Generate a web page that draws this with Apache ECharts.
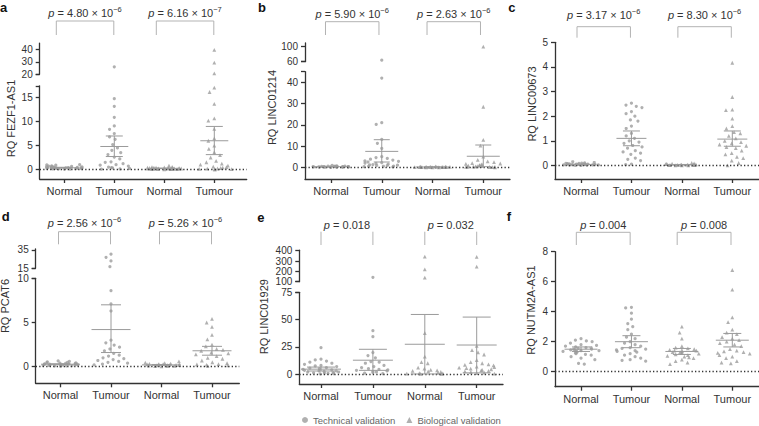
<!DOCTYPE html>
<html><head><meta charset="utf-8">
<script src="https://cdn.jsdelivr.net/npm/echarts@6/dist/echarts.min.js"></script>
<style>html,body{margin:0;padding:0;background:#fff}#c{width:759px;height:426px}</style>
</head><body><div id="c"></div>
<script>
// ---------------- DATA ----------------
const categories = ['Normal', 'Tumour', 'Normal', 'Tumour'];
const legendNames = ['Technical validation', 'Biological validation'];

// a: FEZF1-AS1
const aYName = 'RQ FEZF1-AS1';
const aTechNormal = [0.05,0.08,0.1,0.12,0.15,0.18,0.2,0.22,0.25,0.27,0.3,0.3,0.32,0.35,0.38,0.4,0.42,0.45,0.48,0.5,0.52,0.55,0.6,0.65,0.7,0.75,0.9,0.95,1.0];
const aTechTumour = [26.0,14.8,13.2,10.9,9.1,8.4,7.5,6.8,6.3,5.2,4.5,4.0,3.5,3.1,2.6,2.2,1.6,1.5,1.2,1.0,0.9,0.7,0.5,0.4,0.3,0.2,0.1,0.05];
const aBioNormal = [0.02,0.05,0.06,0.08,0.1,0.1,0.12,0.14,0.15,0.16,0.18,0.2,0.2,0.22,0.24,0.25,0.27,0.3,0.3,0.32,0.35,0.38,0.4,0.45,0.5,0.55,0.8];
const aBioTumour = [39.5,29.3,20.8,17.1,16.2,13.7,10.7,10.2,8.5,6.5,6.0,5.0,4.3,3.6,3.0,2.5,1.8,1.5,1.2,1.0,0.8,0.6,0.5,0.4,0.3,0.2,0.15,0.1,0.05,0.03,0.02];
const aMean = [0.35, 4.8, 0.22, 6.0];
const aCiLow = [0.27, 2.7, 0.17, 3.1];
const aCiHigh = [0.45, 7.0, 0.28, 9.0];
const aPValues = ['4.80 × 10^−6', '6.16 × 10^−7'];
const aLowerTicks = [0, 5, 10, 15];
const aUpperTicks = [20, 30, 40];

// b: LINC01214
const bYName = 'RQ LINC01214';
const bTechNormal = [0.02,0.05,0.08,0.1,0.1,0.12,0.15,0.18,0.2,0.2,0.22,0.25,0.28,0.3,0.3,0.32,0.35,0.4,0.42,0.45,0.5,0.55,0.6,0.7,0.9];
const bTechTumour = [64,42,21,20.2,13.1,11.3,8.9,5.0,4.6,4.2,3.8,3.4,3.0,2.8,2.5,2.2,2.0,1.8,1.5,1.3,1.1,1.0,0.9,0.8,0.6,0.5,0.4,0.3,0.2];
const bBioNormal = [0.01,0.02,0.03,0.05,0.05,0.06,0.08,0.1,0.1,0.12,0.14,0.15,0.18,0.2,0.22,0.25,0.3,0.35,0.4];
const bBioTumour = [100,28.5,12.9,10.2,5.0,3.5,2.8,2.4,2.0,1.8,1.6,1.4,1.2,1.0,0.9,0.8,0.6,0.5,0.4,0.3,0.25,0.2,0.15,0.1,0.05,0.02];
const bMean = [0.3, 7.5, 0.15, 5.2];
const bCiLow = [0.22, 2.5, 0.1, 0.3];
const bCiHigh = [0.38, 13.0, 0.2, 10.5];
const bPValues = ['5.90 × 10^−6', '2.63 × 10^−6'];
const bLowerTicks = [0, 10, 20, 30, 40];
const bUpperTicks = [60, 100];

// c: LINC00673
const cYName = 'RQ LINC00673';
const cTechNormal = [0.0,0.0,0.01,0.01,0.02,0.02,0.02,0.03,0.03,0.03,0.04,0.04,0.05,0.05,0.05,0.06,0.06,0.07,0.08,0.08,0.09,0.1,0.12,0.15];
const cTechTumour = [2.53,2.45,2.4,2.35,2.19,2.1,2.0,1.85,1.8,1.6,1.5,1.3,1.2,1.1,1.0,0.95,0.9,0.81,0.75,0.7,0.6,0.55,0.5,0.45,0.3,0.25,0.2,0.05,0.03];
const cBioNormal = [0,0,0.005,0.01,0.01,0.015,0.02,0.02,0.025,0.03,0.03,0.035,0.04,0.04,0.05,0.05,0.06,0.07,0.08,0.1];
const cBioTumour = [4.17,2.78,2.27,2.25,1.9,1.6,1.5,1.35,1.3,1.2,1.1,1.0,0.95,0.9,0.85,0.8,0.75,0.7,0.6,0.5,0.45,0.35,0.3,0.2,0.1,0.0];
const cMean = [0.04, 1.1, 0.03, 1.07];
const cCiLow = [0.03, 0.8, 0.02, 0.78];
const cCiHigh = [0.05, 1.4, 0.04, 1.4];
const cPValues = ['3.17 × 10^−6', '8.30 × 10^−6'];
const cTicks = [0, 1, 2, 3, 4, 5];

// d: PCAT6
const dYName = 'RQ PCAT6';
const dTechNormal = [0.05,0.08,0.1,0.12,0.15,0.15,0.18,0.2,0.2,0.22,0.25,0.25,0.28,0.3,0.3,0.32,0.35,0.38,0.4,0.42,0.45,0.5,0.55,0.6,0.65];
const dTechTumour = [30.3,27,23,16.8,8.6,7.1,6.3,3.0,2.7,2.45,2.2,2.0,1.8,1.5,1.3,1.2,1.0,0.9,0.8,0.7,0.6,0.5,0.4,0.3,0.2];
const dBioNormal = [0.05,0.08,0.1,0.1,0.12,0.14,0.15,0.16,0.18,0.2,0.2,0.22,0.24,0.25,0.28,0.3,0.32,0.35,0.4,0.45,0.6];
const dBioTumour = [5.4,5.0,4.5,3.6,3.1,2.5,2.3,2.0,1.9,1.8,1.6,1.5,1.4,1.2,1.0,0.9,0.7,0.5,0.4,0.3,0.25,0.2,0.15,0.1];
const dMean = [0.28, 4.2, 0.2, 1.8];
const dCiLow = [0.22, 1.6, 0.16, 1.3];
const dCiHigh = [0.33, 7.0, 0.25, 2.3];
const dPValues = ['2.56 × 10^−6', '5.26 × 10^−6'];
const dLowerTicks = [0, 5, 10];
const dUpperTicks = [15, 35];

// e: LINC01929
const eYName = 'RQ LINC01929';
const eTechNormal = [24.3,13.7,13,12,11,10,9,8,7.5,7,6,5.5,5,4.5,4,3.5,3,3,2.5,2,2,1.5,1.2,1,0.8,0.5,0.3];
const eTechTumour = [142,39.8,34.3,19.8,17,15,11.6,11,10,8,7,6,5,4.5,4,3.5,3,2.5,2,1.5,1,0.5];
const eBioNormal = [342,219,139,37.7,16,11,10,6,5,4,3.5,3,2.5,2,1.5,1,0.8,0.5,0.3,0.2];
const eBioTumour = [340,245,26,22,20,18,13,11,10,9,8.5,8,7,6.5,6,5.5,5,4.5,4,3.5,3,2.5,2,1.5,1,0.5];
const eMean = [4.6, 12.8, 27.4, 26.7];
const eCiLow = [2.9, 3.5, 0.2, 1.2];
const eCiHigh = [6.5, 22.8, 54.7, 52.3];
const ePValues = ['0.018', '0.032'];
const eLowerTicks = [0, 25, 50, 75];
const eUpperTicks = [100, 200, 300, 400];

// f: NUTM2A-AS1
const fYName = 'RQ NUTM2A-AS1';
const fTechNormal = [2.2,2.1,2.05,2.0,1.9,1.8,1.75,1.7,1.65,1.6,1.6,1.55,1.5,1.5,1.45,1.45,1.4,1.4,1.35,1.35,1.3,1.25,1.2,1.15,1.1,1.0,0.9,0.8,0.55,0.5];
const fTechTumour = [4.29,4.25,3.9,3.5,3.2,3.0,2.8,2.5,2.3,2.2,2.0,1.9,1.8,1.7,1.6,1.55,1.5,1.45,1.4,1.35,1.3,1.2,1.1,1.0,0.9,0.8,0.75,0.7];
const fBioNormal = [3.0,2.6,2.2,1.7,1.6,1.55,1.5,1.45,1.4,1.4,1.35,1.3,1.3,1.25,1.2,1.15,1.1,1.05,1.0,0.95,0.9,0.8,0.7,0.6,0.5];
const fBioTumour = [6.78,5.47,3.62,3.3,2.8,2.6,2.5,2.3,2.2,2.1,2.0,1.9,1.8,1.7,1.5,1.4,1.35,1.3,1.25,1.2,1.1,1.0,0.9,0.7,0.6,0.55];
const fMean = [1.5, 2.0, 1.35, 2.1];
const fCiLow = [1.35, 1.6, 1.15, 1.65];
const fCiHigh = [1.65, 2.4, 1.55, 2.55];
const fPValues = ['0.004', '0.008'];
const fTicks = [0, 2, 4, 6, 8];

// ---------------- LAYOUT / STYLE ----------------
const FONT = '"Liberation Sans", Arial, Helvetica, sans-serif';
const AX = '#333333', TX = '#333333', PT = '#9c9c9c', EB = '#9a9a9a', BR = '#b3b3b3';

const layout = {
  a: {letter:[0,7.5], nameXY:[11,118.5], axisX:39.7, catLeft:39.3, band:50, frameW:207, base:179,
      lower:{min:-2, max:17.5, top:85.8}, upper:{min:20, max:45, top:43.05, bottom:74.3},
      bracket:{top:21, bottom:35, textY:13.3, dx:[-8,-0.5], bar:true}, eb:[28,17]},
  b: {letter:[258,7.5], nameXY:[271.5,107.5], axisX:305, catLeft:305.6, band:50.77, frameW:205, base:179,
      lower:{min:-5.5, max:45, top:71.7}, upper:{min:60, max:110, top:42.95, bottom:61.7},
      bracket:{top:21.7, bottom:35, textY:14, dx:[-5.5,-2.8], bar:true}, eb:[33,16]},
  c: {letter:[508.3,7.5], nameXY:[532,104], axisX:555, catLeft:555.8, band:50.43, frameW:210, base:179,
      lower:{min:-0.55, max:5, top:42.3}, upper:null,
      bracket:{top:26.7, bottom:37.7, textY:15, dx:[-4,-1], bar:true}, eb:[30,17]},
  d: {letter:[1.7,216.5], nameXY:[4.5,306], axisX:35.7, catLeft:35.25, band:50.5, frameW:203.6, base:383.3,
      lower:{min:-1.88, max:10, top:278.3}, upper:{min:15, max:36, top:249, bottom:268.3},
      bracket:{top:231.7, bottom:244.3, textY:223.3, dx:[-2,-0.5], bar:true}, eb:[39,20]},
  e: {letter:[257.3,217.5], nameXY:[263.5,316.7], axisX:299.3, catLeft:295.05, band:51.9, frameW:203.7, base:384,
      lower:{min:-9, max:75, top:292.3}, upper:{min:100, max:405, top:250.2, bottom:281.7},
      bracket:{top:231.7, bottom:245, textY:225, dx:[0,0], bar:false}, eb:[40,28]},
  f: {letter:[506.7,216.5], nameXY:[531,310], axisX:555, catLeft:555.8, band:50.43, frameW:210, base:386.7,
      lower:{min:-1, max:8, top:251.7}, upper:null,
      bracket:{top:232.3, bottom:245, textY:225, dx:[-4.7,-1.3], bar:true}, eb:[33,18]}
};

const panels = {
  a:{yName:aYName, groups:[aTechNormal,aTechTumour,aBioNormal,aBioTumour], mean:aMean, lo:aCiLow, hi:aCiHigh, p:aPValues, lowerTicks:aLowerTicks, upperTicks:aUpperTicks},
  b:{yName:bYName, groups:[bTechNormal,bTechTumour,bBioNormal,bBioTumour], mean:bMean, lo:bCiLow, hi:bCiHigh, p:bPValues, lowerTicks:bLowerTicks, upperTicks:bUpperTicks},
  c:{yName:cYName, groups:[cTechNormal,cTechTumour,cBioNormal,cBioTumour], mean:cMean, lo:cCiLow, hi:cCiHigh, p:cPValues, lowerTicks:cTicks, upperTicks:null},
  d:{yName:dYName, groups:[dTechNormal,dTechTumour,dBioNormal,dBioTumour], mean:dMean, lo:dCiLow, hi:dCiHigh, p:dPValues, lowerTicks:dLowerTicks, upperTicks:dUpperTicks},
  e:{yName:eYName, groups:[eTechNormal,eTechTumour,eBioNormal,eBioTumour], mean:eMean, lo:eCiLow, hi:eCiHigh, p:ePValues, lowerTicks:eLowerTicks, upperTicks:eUpperTicks},
  f:{yName:fYName, groups:[fTechNormal,fTechTumour,fBioNormal,fBioTumour], mean:fMean, lo:fCiLow, hi:fCiHigh, p:fPValues, lowerTicks:fTicks, upperTicks:null}
};

// ---------------- BUILD ----------------
const grid = [], xAxis = [], yAxis = [], series = [], graphic = [];
const add = (arr, o) => { arr.push(o); return arr.length - 1; };

function yAxisCfg(gi, min, max, offset, ticks, tickExtra) {
  return {type:'value', gridIndex:gi, min, max, offset,
    axisLine:{show:true, onZero:false, lineStyle:{color:AX, width:1.3}},
    axisTick:{show:true, length:4, customValues:ticks.concat(tickExtra), lineStyle:{color:AX, width:1.3}},
    axisLabel:{customValues:ticks, fontSize:10, color:TX, margin:7, fontFamily:FONT},
    splitLine:{show:false}};
}
function catAxisCfg(gi, show) {
  return {type:'category', gridIndex:gi, data:categories, jitter:36, jitterOverlap:false, jitterMargin:2.6,
    show,
    axisLine:{show:false, onZero:false},
    axisTick:{show:true, alignWithLabel:true, length:4, lineStyle:{color:AX, width:1.3}},
    axisLabel:{fontSize:11, color:TX, margin:6.5, fontFamily:FONT},
    splitLine:{show:false}};
}
function scatterSeries(xi, yi, pd, filter) {
  const tech = [], bio = [];
  pd.groups.forEach((arr, gIdx) => arr.forEach(v => {
    if (!filter(v)) return;
    (gIdx < 2 ? tech : bio).push([gIdx, v]);
  }));
  return [
    {type:'scatter', name:legendNames[0], xAxisIndex:xi, yAxisIndex:yi, data:tech, symbol:'circle', symbolSize:3.2, itemStyle:{color:PT}, z:3, silent:true},
    {type:'scatter', name:legendNames[1], xAxisIndex:xi, yAxisIndex:yi, data:bio, symbol:'triangle', symbolSize:3.8, itemStyle:{color:PT}, z:3, silent:true}
  ];
}
function pText(v) {
  if (v.indexOf('^') >= 0) { const [m, e] = v.split('^'); return '{i|p}{n| = ' + m + '}{s|' + e + '}'; }
  return '{i|p}{n| = ' + v + '}';
}

Object.keys(layout).forEach(key => {
  const g = layout[key], pd = panels[key];
  const lowH = g.base - g.lower.top, catW = 4 * g.band, off = g.catLeft - g.axisX;

  // frame grid: x axis line + dotted zero line
  const gf = add(grid, {left:g.axisX, top:g.lower.top, width:g.frameW, height:lowH});
  const xf = add(xAxis, {type:'value', gridIndex:gf, min:0, max:1, axisLine:{show:true, onZero:false, lineStyle:{color:AX, width:1.3}}, axisTick:{show:false}, axisLabel:{show:false}, splitLine:{show:false}});
  const yf = add(yAxis, {type:'value', gridIndex:gf, min:g.lower.min, max:g.lower.max, show:false, splitLine:{show:false}});
  series.push({type:'line', xAxisIndex:xf, yAxisIndex:yf, data:[], silent:true, z:1,
    markLine:{silent:true, symbol:['none','none'], label:{show:false}, animation:false,
      lineStyle:{color:AX, width:1.3, type:[1.3, 2.2]}, data:[{yAxis:0}]}});

  // lower (main) category grid
  const gl = add(grid, {left:g.catLeft, top:g.lower.top, width:catW, height:lowH});
  const xl = add(xAxis, catAxisCfg(gl, true));
  const yl = add(yAxis, yAxisCfg(gl, g.lower.min, g.lower.max, off, pd.lowerTicks, g.upper ? [g.lower.max] : []));
  series.push(...scatterSeries(xl, yl, pd, v => v <= g.lower.max));
  series.push({type:'custom', xAxisIndex:xl, yAxisIndex:yl, silent:true, z:5,
    data: pd.mean.map((m, i) => [i, m, pd.lo[i], pd.hi[i]]),
    encode:{x:0, y:[1,2,3]},
    renderItem:(params, api) => {
      const x = api.value(0);
      const pm = api.coord([x, api.value(1)]), pl = api.coord([x, api.value(2)]), ph = api.coord([x, api.value(3)]);
      const mw = g.eb[0] / 2, cw = g.eb[1] / 2;
      const st = {stroke:EB, lineWidth:1};
      return {type:'group', children:[
        {type:'line', shape:{x1:pm[0]-mw, y1:pm[1], x2:pm[0]+mw, y2:pm[1]}, style:st},
        {type:'line', shape:{x1:pl[0], y1:pl[1], x2:ph[0], y2:ph[1]}, style:st},
        {type:'line', shape:{x1:pl[0]-cw, y1:pl[1], x2:pl[0]+cw, y2:pl[1]}, style:st},
        {type:'line', shape:{x1:ph[0]-cw, y1:ph[1], x2:ph[0]+cw, y2:ph[1]}, style:st}
      ]};
    }});

  // upper segment of broken axis
  if (g.upper) {
    const gu = add(grid, {left:g.catLeft, top:g.upper.top, width:catW, height:g.upper.bottom - g.upper.top});
    const xu = add(xAxis, catAxisCfg(gu, false));
    const yu = add(yAxis, yAxisCfg(gu, g.upper.min, g.upper.max, off, pd.upperTicks, [g.upper.min]));
    series.push(...scatterSeries(xu, yu, pd, v => v > g.lower.max));
  }

  // p-value brackets
  const gb = add(grid, {left:g.catLeft, top:g.bracket.top, width:catW, height:g.bracket.bottom - g.bracket.top});
  const xb = add(xAxis, {type:'category', gridIndex:gb, data:categories, show:false});
  const yb = add(yAxis, {type:'value', gridIndex:gb, min:0, max:1, show:false, splitLine:{show:false}});
  series.push({type:'custom', xAxisIndex:xb, yAxisIndex:yb, silent:true, z:4,
    data:[[0, 1], [2, 3]], encode:{x:[0,1]},
    renderItem:(params, api) => {
      const i0 = api.value(0), i1 = api.value(1);
      const t0 = api.coord([i0, 1]), b0 = api.coord([i0, 0]);
      const t1 = api.coord([i1, 1]);
      const xl0 = t0[0] + g.bracket.dx[0], xr = t1[0] + g.bracket.dx[1];
      const st = {stroke:BR, lineWidth:1, fill:null};
      const kids = [];
      if (g.bracket.bar) {
        kids.push({type:'polyline', shape:{points:[[xl0, b0[1]], [xl0, t0[1]], [xr, t0[1]], [xr, b0[1]]]}, style:st});
      } else {
        kids.push({type:'line', shape:{x1:xl0, y1:b0[1], x2:xl0, y2:t0[1]}, style:st});
        kids.push({type:'line', shape:{x1:xr, y1:b0[1], x2:xr, y2:t0[1]}, style:st});
      }
      kids.push({type:'text', x:(xl0 + xr) / 2, y:t0[1] - (g.bracket.top - g.bracket.textY),
        style:{text:pText(pd.p[params.dataIndex]), align:'center', verticalAlign:'middle', fill:TX,
          rich:{
            i:{fontStyle:'italic', fontSize:11, fontFamily:FONT, lineHeight:16, fill:TX},
            n:{fontSize:11, fontFamily:FONT, lineHeight:16, fill:TX},
            s:{fontSize:7.5, fontFamily:FONT, lineHeight:8, verticalAlign:'top', fill:TX}
          }}});
      return {type:'group', children:kids};
    }});

  // panel letter and y-axis name
  graphic.push({type:'text', x:g.letter[0], y:g.letter[1], silent:true,
    style:{text:key, fontSize:13, fontWeight:'bold', fontFamily:FONT, fill:'#111', align:'left', verticalAlign:'middle'}});
  graphic.push({type:'text', x:g.nameXY[0], y:g.nameXY[1], rotation:Math.PI / 2, silent:true,
    style:{text:pd.yName, fontSize:11, fontFamily:FONT, fill:TX, align:'center', verticalAlign:'middle'}});
});

const chart = echarts.init(document.getElementById('c'), null, {renderer:'svg', width:759, height:426});
chart.setOption({
  animation:false,
  backgroundColor:'#ffffff',
  textStyle:{fontFamily:FONT},
  grid, xAxis, yAxis, series, graphic,
  legend:{data:[{name:legendNames[0], icon:'circle'}, {name:legendNames[1], icon:'triangle'}],
    left:302, top:415, itemWidth:6, itemHeight:6, itemGap:11, selectedMode:false, padding:0,
    textStyle:{fontSize:9.5, color:'#666', fontFamily:FONT}}
});
</script></body></html>
